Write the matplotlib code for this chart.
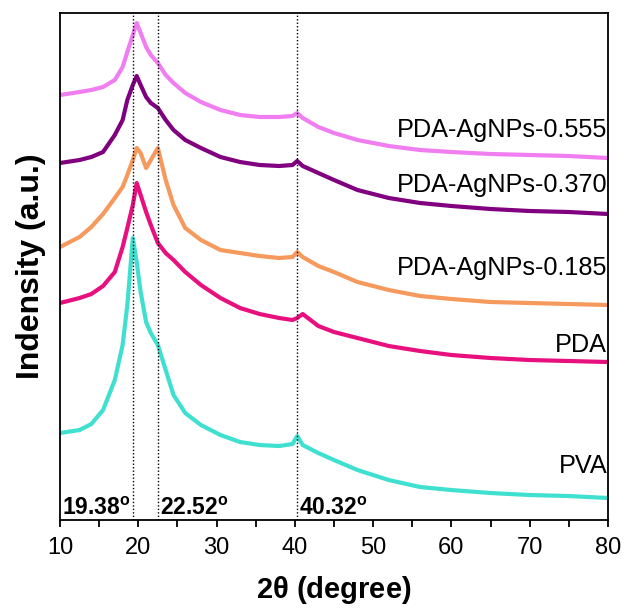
import matplotlib
matplotlib.use("Agg")
import matplotlib.pyplot as plt
from matplotlib.ticker import MultipleLocator

two_theta = [10, 12.5, 14, 15.5, 17, 18, 18.6, 19.3, 19.8, 20.3, 21, 21.6, 22.5, 23.5,
             24.5, 26, 28, 30.5, 33, 35.5, 38, 39.7, 40.3, 41, 43, 45, 48, 52, 56, 60,
             65, 70, 75, 80]

# stacked intensities (a.u.), bottom to top
pva = [87, 90, 96, 110, 140, 175, 215, 282, 258, 228, 198, 187, 175, 150,
       125, 107, 95, 85, 78, 75, 74, 76, 84, 75, 67, 60, 50, 40, 33, 30,
       27, 25, 24, 22]
pda = [217, 222, 226, 234, 248, 273, 292, 315, 337, 325, 308, 295, 277, 267,
       260, 248, 235, 222, 212, 206, 202, 200, 202, 206, 194, 188, 182, 174, 169, 165,
       162, 160, 159, 158]
agnps_0185 = [273, 283, 293, 306, 322, 333, 345, 360, 372, 367, 352, 360, 372, 340,
              315, 292, 280, 270, 267, 264, 262, 263, 268, 263, 254, 248, 238, 230, 224, 221,
              218, 217, 216, 215]
agnps_0370 = [357, 360, 363, 368, 385, 400, 420, 435, 444, 435, 423, 417, 412, 400,
              390, 380, 372, 363, 358, 355, 354, 355, 359, 354, 347, 340, 330, 322, 317, 314,
              311, 309, 308, 306]
agnps_0555 = [425, 428, 430, 433, 440, 453, 468, 485, 497, 487, 473, 465, 457, 445,
              437, 427, 418, 410, 405, 403, 403, 404, 407, 402, 393, 387, 380, 374, 370, 368,
              366, 365, 364, 362]

series = [pva, pda, agnps_0185, agnps_0370, agnps_0555]
names = ["PVA", "PDA", "PDA-AgNPs-0.185", "PDA-AgNPs-0.370", "PDA-AgNPs-0.555"]
colors = ["#40e0d0", "#e8107f", "#f5995c", "#800080", "#f07ef0"]
label_y = [54, 175, 252, 335, 390]

peaks = [19.38, 22.52, 40.32]
peak_labels = ["19.38", "22.52", "40.32"]

plt.rcParams["font.family"] = ["Liberation Sans", "DejaVu Sans"]

fig = plt.figure(figsize=(6.25, 6.1), dpi=100)
ax = fig.add_axes([0.096, 0.1475, 0.8768, 0.8312])

for y, c in zip(series, colors):
    ax.plot(two_theta, y, color=c, lw=3.0, solid_joinstyle="round")

for name, ly in zip(names, label_y):
    ax.text(79.9, ly, name, ha="right", va="center", fontsize=18.2)

for p in peaks:
    ax.axvline(p, color="black", ls=(0, (1, 1.5)), lw=1.0, zorder=5)
for p, s in zip(peaks, peak_labels):
    ax.text(p - 9.1 if p < 20 else p + 0.2, 5, s + r"$^\mathregular{o}$",
            ha="left", va="baseline", fontsize=16.5, fontweight="bold")

ax.set_xlim(10, 80)
ax.set_ylim(0, 507)
ax.xaxis.set_major_locator(MultipleLocator(10))
ax.xaxis.set_minor_locator(MultipleLocator(5))
ax.tick_params(axis="x", which="both", direction="out", length=5, width=1.3,
               labelsize=17, pad=7)
ax.set_yticks([])
for sp in ax.spines.values():
    sp.set_linewidth(1.3)

ax.set_xlabel(r"2$\mathregular{\theta}$ (degree)", fontsize=21, fontweight="bold", labelpad=11)
ax.set_ylabel("Indensity (a.u.)", fontsize=23, fontweight="bold", labelpad=10)

fig.savefig("out.png", dpi=100)
